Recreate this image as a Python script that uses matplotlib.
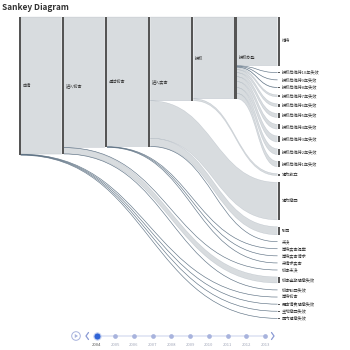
import matplotlib
matplotlib.use('Agg')
import matplotlib.pyplot as plt
from matplotlib.path import Path
from matplotlib.patches import PathPatch, Rectangle, Circle, Polygon

plt.rcParams['font.family'] = ['Noto Sans CJK SC', 'DejaVu Sans']

# nodes per column (top to bottom)
col_nodes = [
    ['申请'],
    ['进入初审'],
    ['通过初审'],
    ['进入实审'],
    ['授权'],
    ['授权办登'],
    ['维持', '授权后维持10年失效', '授权后维持9年失效', '授权后维持8年失效',
     '授权后维持7年失效', '授权后维持6年失效', '授权后维持5年失效',
     '授权后维持4年失效', '授权后维持3年失效', '授权后维持2年失效',
     '授权后维持1年失效', '视为放弃', '视为撤回', '驳回', '未决',
     '等待实审提案', '等待实审请求', '未请求实审', '初审未决',
     '初审逾期视撤失效', '初审驳回失效', '等待初审', '无申请费视撤失效',
     '主动撤回失效', '国内视撤失效'],
]

sources = ['申请', '申请', '申请', '申请', '申请',
           '进入初审', '进入初审', '进入初审', '进入初审',
           '通过初审', '通过初审', '通过初审', '通过初审',
           '进入实审', '进入实审', '进入实审', '进入实审',
           '授权', '授权',
           '授权办登', '授权办登', '授权办登', '授权办登', '授权办登', '授权办登',
           '授权办登', '授权办登', '授权办登', '授权办登', '授权办登']
targets = ['进入初审', '等待初审', '无申请费视撤失效', '主动撤回失效', '国内视撤失效',
           '通过初审', '初审未决', '初审逾期视撤失效', '初审驳回失效',
           '进入实审', '等待实审提案', '等待实审请求', '未请求实审',
           '授权', '视为撤回', '驳回', '未决',
           '授权办登', '视为放弃',
           '维持', '授权后维持10年失效', '授权后维持9年失效', '授权后维持8年失效',
           '授权后维持7年失效', '授权后维持6年失效', '授权后维持5年失效',
           '授权后维持4年失效', '授权后维持3年失效', '授权后维持2年失效',
           '授权后维持1年失效']
values = [13520, 30, 30, 30, 30,
          12870, 20, 600, 30,
          12780, 30, 30, 30,
          8260, 3700, 800, 20,
          8060, 200,
          4800, 30, 60, 100, 200, 300, 400, 470, 600, 570, 530]

years = ['2004', '2005', '2006', '2007', '2008', '2009', '2010', '2011', '2012', '2013']

# ---- layout (pixel space) ----
fig = plt.figure(figsize=(3.5, 3.5), dpi=100)
ax = fig.add_axes([0, 0, 1, 1])
ax.set_xlim(0, 350)
ax.set_ylim(350, 0)
ax.axis('off')

x_left, x_right = 18.5, 277.5
top, bottom = 17, 318.5
gap = 6.8
nw = 2.2

ncol = len(col_nodes)
col_x = [x_left + i * (x_right - x_left) / (ncol - 1) for i in range(ncol)]

node_val = {}
for col in col_nodes:
    for n in col:
        vin = sum(v for s, t, v in zip(sources, targets, values) if t == n)
        vout = sum(v for s, t, v in zip(sources, targets, values) if s == n)
        node_val[n] = max(vin, vout)

ky = min((bottom - top - (len(col) - 1) * gap) / sum(node_val[n] for n in col)
         for col in col_nodes)

node_x, node_y0, node_h = {}, {}, {}
for ci, col in enumerate(col_nodes):
    y = top
    for n in col:
        node_x[n] = col_x[ci]
        node_y0[n] = y
        node_h[n] = node_val[n] * ky
        y += node_h[n] + gap

# link offsets
links = list(zip(sources, targets, values))
src_off = {}
tgt_off = {}
for n in node_val:
    outs = sorted([l for l in links if l[0] == n], key=lambda l: node_y0[l[1]])
    y = node_y0[n]
    for l in outs:
        src_off[l] = y
        y += l[2] * ky
    ins = sorted([l for l in links if l[1] == n], key=lambda l: node_y0[l[0]])
    y = node_y0[n]
    for l in ins:
        tgt_off[l] = y
        y += l[2] * ky

link_fill = '#d2d6da'
link_dark = '#4f6579'
for l in links:
    s, t, v = l
    w = v * ky
    x0 = node_x[s] + nw
    x1 = node_x[t]
    xm = (x0 + x1) / 2
    sy, ty = src_off[l], tgt_off[l]
    verts = [(x0, sy), (xm, sy), (xm, ty), (x1, ty),
             (x1, ty + w), (xm, ty + w), (xm, sy + w), (x0, sy + w), (x0, sy)]
    codes = [Path.MOVETO, Path.CURVE4, Path.CURVE4, Path.CURVE4,
             Path.LINETO, Path.CURVE4, Path.CURVE4, Path.CURVE4, Path.CLOSEPOLY]
    ax.add_patch(PathPatch(Path(verts, codes), facecolor=link_fill,
                           edgecolor='none', alpha=0.85, zorder=1))
    if w < 1.5:
        c = [(x0, sy + w / 2), (xm, sy + w / 2), (xm, ty + w / 2), (x1, ty + w / 2)]
        ax.add_patch(PathPatch(Path(c, [Path.MOVETO, Path.CURVE4, Path.CURVE4, Path.CURVE4]),
                               facecolor='none', edgecolor=link_dark, lw=0.45,
                               alpha=0.85, zorder=2))
    else:
        for e in (0, w):
            c = [(x0, sy + e), (xm, sy + e), (xm, ty + e), (x1, ty + e)]
            ax.add_patch(PathPatch(Path(c, [Path.MOVETO, Path.CURVE4, Path.CURVE4, Path.CURVE4]),
                                   facecolor='none', edgecolor=link_dark, lw=0.3,
                                   alpha=0.25, zorder=2))

for n in node_val:
    ax.add_patch(Rectangle((node_x[n], node_y0[n]), nw, max(node_h[n], 0.6),
                           facecolor='#555555', edgecolor='none', zorder=3))
    ax.text(node_x[n] + nw + 2, node_y0[n] + node_h[n] / 2, n, fontsize=3,
            color='#333333', ha='left', va='center', zorder=4)

ax.text(2, 7, 'Sankey Diagram', fontsize=6, fontweight='bold', color='#333333',
        ha='left', va='center')

# ---- timeline ----
ty_line = 336
tx = [96.5 + i * (265 - 96.5) / (len(years) - 1) for i in range(len(years))]
ax.plot([tx[0], tx[-1]], [ty_line, ty_line], color='#dfe4f3', lw=1.2, zorder=1)
ax.plot(tx[1:], [ty_line] * (len(tx) - 1), 'o', ms=3.4, color='#a8b3dd',
        mec='none', zorder=2)
ax.plot(tx[0], ty_line, 'o', ms=5.2, color='#2f63d6', mec='#c9d4f2', mew=0.8, zorder=3)
for i, (x, yr) in enumerate(zip(tx, years)):
    ax.text(x, 344.5, yr, fontsize=3, ha='center', va='center',
            color='#555555' if i == 0 else '#a0a6b8')
ax.add_patch(Circle((76, ty_line), 4.3, facecolor='none', edgecolor='#a8b3dd', lw=0.7))
ax.add_patch(Polygon([(74.8, 334), (74.8, 338), (78, 336)], closed=True,
                     facecolor='#a8b3dd', edgecolor='none'))
ax.plot([88.5, 86, 88.5], [332.5, 336, 339.5], color='#8a9ad4', lw=0.9,
        solid_capstyle='round')
ax.plot([271.5, 274, 271.5], [332.5, 336, 339.5], color='#8a9ad4', lw=0.9,
        solid_capstyle='round')

fig.savefig('out.png', dpi=100, facecolor='white')
